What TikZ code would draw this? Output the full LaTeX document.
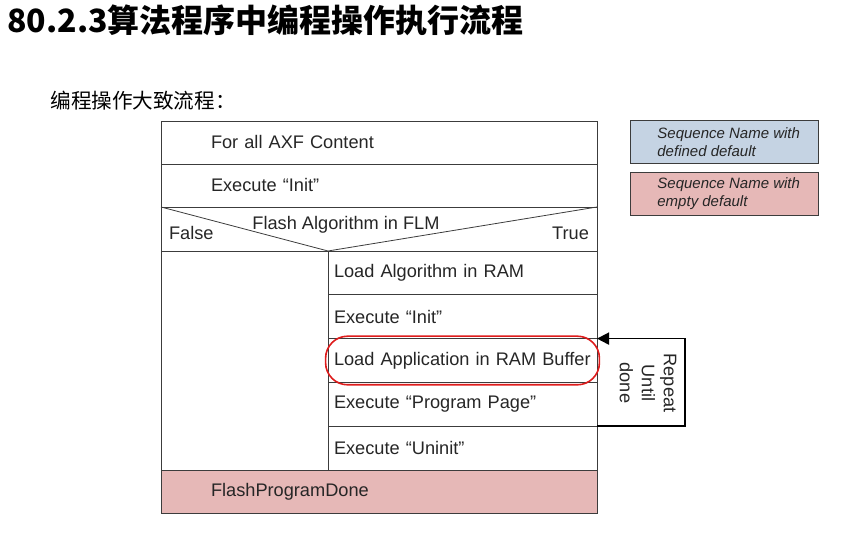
\documentclass[tikz,border=0pt]{standalone}
\usepackage{fontspec}
\setmainfont{Liberation Sans}
\newfontfamily\cjk{Noto Sans CJK SC}
\usetikzlibrary{positioning,arrows.meta,fit}
\definecolor{nsline}{RGB}{60,60,60}
\definecolor{nsblue}{RGB}{197,211,227}
\definecolor{nspink}{RGB}{230,184,183}
\definecolor{nsred}{RGB}{222,28,28}

\begin{document}
\begin{tikzpicture}[
  x=0.5pt,y=-0.5pt,
  node distance=0pt,
  every node/.style={font=\fontsize{9.1}{11}\selectfont,text=black!85},
  fullrow/.style={rectangle,draw=nsline,outer sep=0pt,text width=168pt,inner xsep=25pt,
    inner ysep=0pt,align=left,minimum height=21.5pt},
  subrow/.style={rectangle,draw=nsline,outer sep=0pt,text width=128.5pt,inner xsep=3pt,
    inner ysep=0pt,align=left,minimum height=21.9pt},
  legendbox/.style={rectangle,draw=nsline,outer sep=0pt,minimum width=94pt,minimum height=21.8pt,anchor=north west},
  legendtext/.style={anchor=west,inner sep=0pt,align=left,font=\itshape\fontsize{7.5}{9}\selectfont},
  redring/.style={rectangle,draw=nsred,line width=0.8pt,rounded corners=11pt,inner sep=1.2pt},
  loopline/.style={draw=black,line width=0.9pt,-{Triangle[length=6pt,width=6pt]}}
]
\useasboundingbox (0,0) rectangle (868,533);
\node[anchor=west,inner sep=0pt,font=\cjk\bfseries\fontsize{16}{19}\selectfont,text=black] (title) at (7,20) {80.2.3算法程序中编程操作执行流程};
\node[anchor=west,inner sep=0pt,font=\cjk\fontsize{10.3}{12}\selectfont,text=black] (subtitle) at (50,101) {编程操作大致流程：};

\node[fullrow,anchor=north west] (axf) at (161,121) {For all AXF Content};
\node[fullrow,below=of axf] (init) {Execute “Init”};
\node[fullrow,below=of init,minimum height=22pt] (cond) {};
\node[subrow,anchor=north east] (loadalg) at (cond.south east) {Load Algorithm in RAM};
\node[subrow,below=of loadalg] (algInit) {Execute “Init”};
\node[subrow,below=of algInit] (loadapp) {Load Application in RAM Buffer};
\node[subrow,below=of loadapp] (progpage) {Execute “Program Page”};
\node[subrow,below=of progpage] (uninit) {Execute “Uninit”};
\node[fullrow,fill=nspink,anchor=north west,minimum height=21.5pt] (done) at (cond.south west |- uninit.south) {FlashProgramDone};
\draw[nsline] (cond.south west) -- (done.north west);
\draw[nsline] (cond.north west) -- (loadalg.north west) -- (cond.north east);

\node[anchor=west] (false) at (162,233) {False};
\node (flm) at (346,225) {Flash Algorithm in FLM};
\node[anchor=east] (true) at (596,233) {True};

\node[redring,fit=(loadapp)] (ring) {};
\draw[loopline] (uninit.north east) -- ++(88,0) |- (loadapp.north east);
\node[rotate=-90,align=center] (repeat) at (648,383) {Repeat\\Until\\done};

\node[legendbox,fill=nsblue] (defbox) at (630,120) {};
\node[legendtext,right=13.5pt of defbox.west] (deftext) {Sequence Name with\\defined default};
\node[legendbox,fill=nspink] (emptybox) at (630,172) {};
\node[legendtext,right=13.5pt of emptybox.west] (emptytext) {Sequence Name with\\empty default};
\end{tikzpicture}
\end{document}
